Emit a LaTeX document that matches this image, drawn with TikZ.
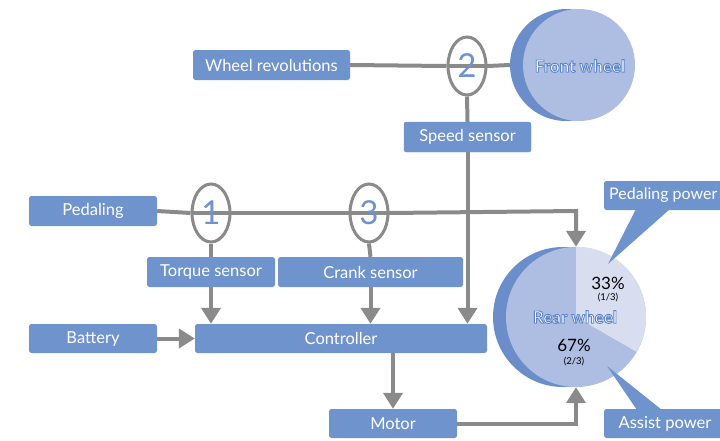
\documentclass[tikz,border=0pt]{standalone}
\usepackage{fontspec}
\setmainfont{Lato}
\usetikzlibrary{arrows.meta,shapes.geometric}
\definecolor{boxblue}{HTML}{6F93CD}
\definecolor{wheellight}{HTML}{AEBDE2}
\definecolor{slicelight}{HTML}{D8DEF0}
\definecolor{wheeldark}{HTML}{6B8ECB}
\definecolor{linegray}{HTML}{8A8A8A}
\newcommand{\outlinedtext}[1]{\special{pdf:literal 2 Tr 0.9 w 0.36 0.52 0.79 RG}#1\special{pdf:literal 0 Tr}}
\tikzset{
  box/.style={fill=boxblue, rounded corners=2.5pt, text=white, inner sep=0pt,
    minimum height=30pt, font=\fontsize{16.5}{16.5}\selectfont},
  conn/.style={draw=linegray, line width=4pt},
  arr/.style={conn, -{Triangle[width=19pt,length=16pt]}},
  sens/.style={ellipse, draw=linegray, line width=3pt, fill=white, inner sep=0pt,
    minimum width=38pt, minimum height=58pt},
  num/.style={text=boxblue, font=\fontsize{33}{33}\selectfont},
  wlabel/.style={text=white, font=\fontsize{17}{17}\selectfont\bfseries},
  pct/.style={text=black, font=\fontsize{17}{17}\selectfont},
  frac/.style={text=black, font=\fontsize{9.5}{9.5}\selectfont},
}
\begin{document}
\begin{tikzpicture}[x=1pt,y=-1pt]
\useasboundingbox (0,0) rectangle (720,440);
\clip (0,0) rectangle (720,440);
% wheels
\node[circle, minimum size=112pt, inner sep=0pt] (fwd) at (566,65) {};
\node[circle, minimum size=112pt, inner sep=0pt] (fw) at (579,65) {};
\node[circle, minimum size=140pt, inner sep=0pt] (rwd) at (563,317) {};
\node[circle, minimum size=140pt, inner sep=0pt] (rw) at (576,317) {};
\fill[wheeldark] (fwd.center) circle[radius=56pt];
\fill[wheellight] (fw.center) circle[radius=56pt];
\fill[wheeldark] (rwd.center) circle[radius=70pt];
\fill[wheellight] (rw.center) circle[radius=70pt];
\fill[slicelight] (rw.center) -- (rw.north) arc[start angle=90, end angle=-30, radius=70pt] -- cycle;
% sensor ellipses
\node[sens] (e2) at (467,66) {};
\node[sens] (e1) at (211,213) {};
\node[sens] (e3) at (369,213) {};
% boxes
\node[box, minimum width=157pt] (wr) at (271.5,65) {Wheel revolutions};
\node[box, minimum width=127pt] (ss) at (467.5,137) {Speed sensor};
\node[box, minimum width=128pt] (ped) at (93,211) {Pedaling};
\node[box, minimum width=128pt] (ts) at (211,272) {Torque sensor};
\node[box, minimum width=185pt] (cs) at (370.5,272) {Crank sensor};
\node[box, minimum width=128pt, minimum height=29pt] (bat) at (93,338.5) {Battery};
\node[box, minimum width=292pt, minimum height=29pt] (ctrl) at (341,338.5) {Controller};
\node[box, minimum width=128pt, minimum height=29pt] (mot) at (393,423.5) {Motor};
\node[box, minimum width=140pt, minimum height=29pt] (pp) at (674,195.5) {};
\node[anchor=west, text=white, inner sep=0pt, font=\fontsize{16}{16}\selectfont] (pptext) at (609,195.5) {Pedaling power};
\node[box, minimum width=122pt, minimum height=29pt] (ap) at (665,423.5) {Assist power};
% callout pointers
\coordinate (ppt) at (608,264);
\coordinate (apt) at (607,366);
\fill[boxblue] (636,209) -- (670,209) -- (ppt) -- cycle;
\fill[boxblue] (637,410) -- (662,410) -- (apt) -- cycle;
% connectors
\coordinate (rwtop) at (rw.north |- ped.east);
\coordinate (rwbot) at (rw.south |- mot.east);
\path[conn] (wr.east) -- (e2.west);
\path[conn] (e2.east) -- (fwd.west);
\path[conn] (ped.east) -- (e1.west);
\path[conn] (e1.west) -- (e1.east);
\path[conn] (e1.east) -- (e3.west);
\path[conn] (e3.west) -- (e3.east);
\path[conn] (e2.west) -- (e2.east);
\path[arr] (e3.east) -- (rwtop) -- (rw.north);
\path[arr] (mot.east) -- (rwbot) -- (rw.south);
\path[conn] (e1.south) -- (ts.north);
\path[conn] (e3.south) -- (cs.north);
\path[arr] (ts.south) -- (ts.south |- ctrl.north);
\path[arr] (cs.south) -- (cs.south |- ctrl.north);
\path[arr] (bat.east) -- (ctrl.west);
\path[arr] (ctrl.south -| mot.north) -- (mot.north);
\path[conn] (e2.south) -- (ss.north);
\path[arr] (ss.south) -- (ss.south |- ctrl.north);
% box drawn again over the crossing line
\fill[boxblue, rounded corners=2.5pt] (ss.south west) rectangle (ss.north east);
\node[text=white, font=\fontsize{16.5}{16.5}\selectfont] at (ss) {Speed sensor};
% numbers
\node[num] at (e1) {1};
\node[num] at (e2) {2};
\node[num] at (e3) {3};
% wheel labels
\node[wlabel] at (580,66) {\outlinedtext{Front wheel}};
\node[wlabel] at (575,317) {\outlinedtext{Rear wheel}};
\node[pct] at (608,283) {33\%};
\node[frac] at (608,298) {(1/3)};
\node[pct] at (574,345) {67\%};
\node[frac] at (574,362) {(2/3)};
\end{tikzpicture}
\end{document}
